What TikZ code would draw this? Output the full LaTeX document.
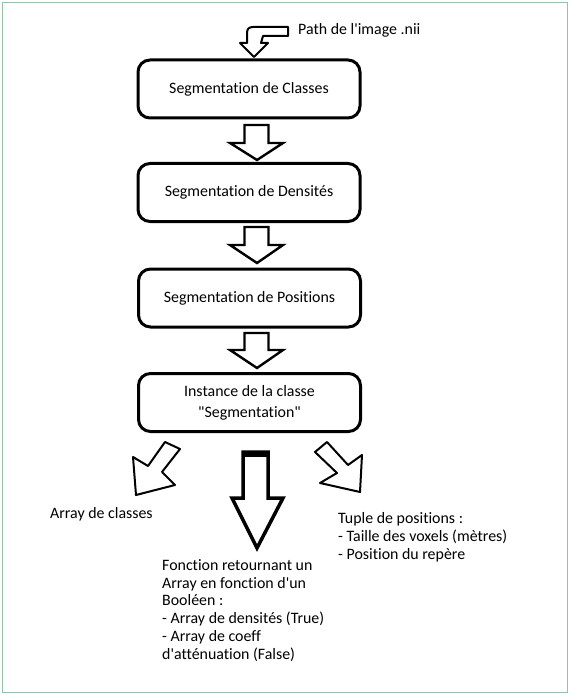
\documentclass[tikz,border=0pt]{standalone}
\usepackage{fontspec}
\newfontfamily\fs{Carlito}[Ligatures={NoCommon}]
\newcommand\tfont{\fs\fontsize{15.9pt}{17.9pt}\selectfont}
\definecolor{framec}{RGB}{150,192,168}
\begin{document}
\begin{tikzpicture}[x=1pt,y=-1pt,
  box/.style={draw, line width=3pt, rounded corners=12pt, minimum width=222pt,
              minimum height=58pt, align=center, font=\tfont, inner sep=2pt},
  blk/.style={draw, line width=2.4pt, line join=miter},
  thin blk/.style={draw, line width=2pt, line join=round},
  lbl/.style={font=\tfont, inner sep=0pt, align=left}]
\useasboundingbox (0,0) rectangle (570,695);
\draw[framec, line width=1.4pt] (2.5,2.5) rectangle (567.5,692.5);

% boxes
\node[box] (b1) at (249,89) {Segmentation de Classes};
\node[box] (b2) at (249,192.5) {Segmentation de Densités};
\node[box] (b3) at (249.5,298) {Segmentation de Positions};
\node[box] (b4) at (249.5,402.5) {Instance de la classe\\[3pt]"Segmentation"};

% input
\node[lbl, anchor=west] (path) at (298,30) {Path de l'image .nii};
\draw[thin blk] (288,27) -- (253,27) .. controls (249,27) and (247,29) .. (247,33)
  -- (247,43) -- (240,43) -- (254,57) -- (268,43) -- (261,43) -- (263,36) -- (288,36) -- cycle;

% block arrows between boxes
\foreach \t/\b/\p in {125/143/160, 227/245/263, 333/350/368}
  \draw[blk] (244.5,\t) -- (268.5,\t) -- (268.5,\b) -- (283,\b) -- (257,\p)
    -- (230,\b) -- (244.5,\b) -- cycle;

% outputs
\draw[thin blk] (165,442) -- (180,449) -- (162,472) -- (175,485) -- (136,495)
  -- (133,457) -- (148,466) -- cycle;
\draw[line width=3.5pt, line join=miter] (243,452) -- (268,452) -- (268,498) -- (283,498)
  -- (257,548) -- (232,498) -- (243,498) -- cycle;
\draw[line width=6pt] (241.5,454) -- (269.5,454);
\draw[thin blk] (315,452) -- (327,442) -- (348,465) -- (362,455) -- (360,492)
  -- (320,483) -- (337,473) -- cycle;

\node[lbl, anchor=west] (arr) at (50,514) {Array de classes};
\node[lbl, anchor=north west] (tuple) at (338,512) {Tuple de positions :\\- Taille des voxels (mètres)\\- Position du repère};
\node[lbl, anchor=north west] (fct) at (162,559) {Fonction retournant un\\Array en fonction d'un\\Booléen :\\- Array de densités (True)\\- Array de coeff\\d'atténuation (False)};
\end{tikzpicture}
\end{document}
